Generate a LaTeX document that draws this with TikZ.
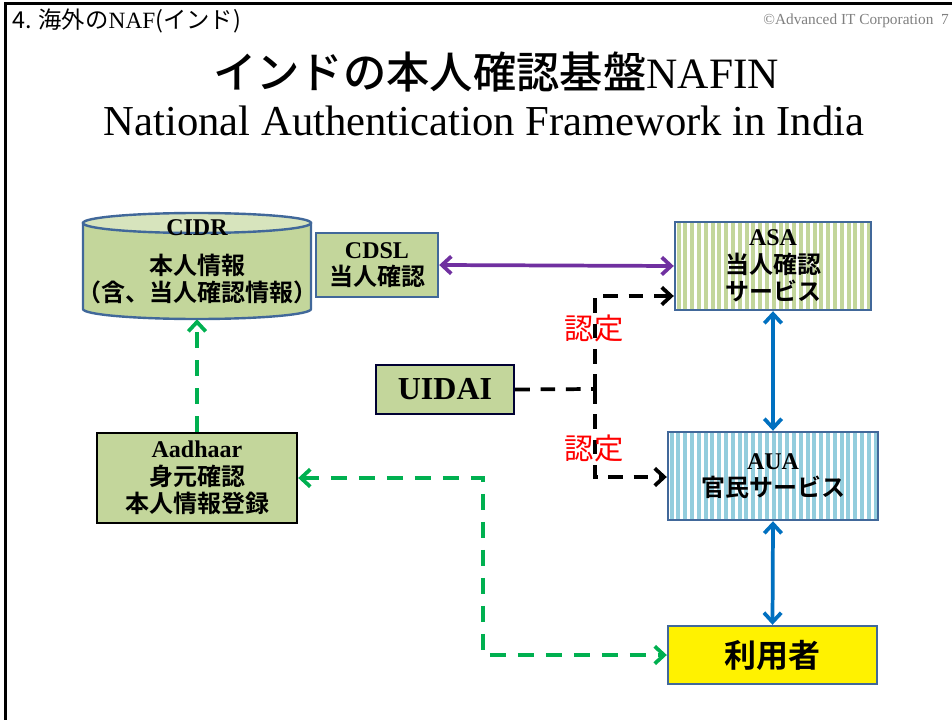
\documentclass[tikz,border=0pt]{standalone}
\usepackage{fontspec}
\usetikzlibrary{arrows.meta}
\setmainfont{Liberation Serif}
\newfontfamily\jp{Noto Sans CJK JP}[BoldFont={Noto Sans CJK JP Bold}]
\newfontfamily\jpm{Noto Sans CJK JP Medium}
\definecolor{olv}{HTML}{C3D69B}
\definecolor{olvl}{HTML}{D7E4BD}
\definecolor{bdr}{HTML}{41689A}
\definecolor{stg}{HTML}{C3D69B}
\definecolor{stb}{HTML}{93CDDD}
\definecolor{pur}{HTML}{7030A0}
\definecolor{blu}{HTML}{0070C0}
\definecolor{grn}{HTML}{00B050}
\def\boxfont{\fontsize{18}{20.6}\selectfont\bfseries\jp}
\begin{document}
\begin{tikzpicture}[x=0.75pt,y=-0.75pt,
  box/.style={draw=bdr, line width=1.8pt, fill=olv, inner sep=0pt, align=center, font=\boxfont},
  stripes/.style={path picture={\foreach \k in {0,...,33} \fill[#1] ([xshift=\k*5.1pt+1.2pt]path picture bounding box.south west) rectangle ++(3pt,80pt);}},
  conn/.style={line width=2.8pt},
  barb/.tip={Straight Barb[length=7pt,width=13pt]},
  bdash/.style={dash pattern=on 11pt off 8pt},
  gdash/.style={dash pattern=on 12pt off 9pt}
]
\useasboundingbox (0,0) rectangle (952,720);
\fill[white] (0,0) rectangle (952,720);
\draw[line width=2.25pt] (5,720) -- (5,4) -- (952,4);

% header
\node[anchor=west, inner sep=0pt, font=\jp\fontsize{17.5}{20}\selectfont] (hdr) at (12,21) {4. 海外の{\rmfamily NAF}(インド)};
\node[anchor=east, inner sep=0pt, text=black!50, font=\fontsize{11.5}{14}\selectfont] (copy) at (949,21) {©Advanced IT Corporation\enspace 7};

% titles
\node[inner sep=0pt, font=\fontsize{32.5}{36}\selectfont] (t1) at (496,72) {{\jpm インドの本人確認基盤}NAFIN};
\node[inner sep=0pt, font=\fontsize{32}{36}\selectfont] (t2) at (484,121) {National Authentication Framework in India};

% CIDR cylinder
\filldraw[draw=bdr, fill=olv, line width=1.8pt] (83,223) -- (83,309) arc[start angle=180, end angle=0, x radius=114, y radius=10] -- (311,223) -- cycle;
\filldraw[draw=bdr, fill=olvl, line width=1.8pt] (197,223) ellipse[x radius=114, y radius=10];
\node[minimum width=171pt, minimum height=79.5pt, inner sep=0pt] (cidr) at (197,266) {};
\node[inner sep=0pt, align=center, font=\boxfont] (cidrtxt) at (197,262) {{\rmfamily CIDR}\\[8.5pt]本人情報\\（含、当人確認情報）};

% boxes
\node[box, minimum width=91.5pt, minimum height=48pt] (cdsl) at (377,265) {{\rmfamily CDSL}\\当人確認};
\node[box, fill=white, stripes=stg, minimum width=147pt, minimum height=66pt] (asa) at (773,266) {{\rmfamily ASA}\\当人確認\\サービス};
\node[box, fill=white, stripes=stb, minimum width=157.5pt, minimum height=66pt] (aua) at (773,476) {{\rmfamily AUA}\\官民サービス};
\node[box, fill=yellow, minimum width=156.75pt, minimum height=43.5pt, font=\fontsize{24}{26}\selectfont\bfseries\jp] (riyo) at (772.5,655) {利用者};
\node[box, draw=black!80!blue, minimum width=103.5pt, minimum height=36.75pt, font=\fontsize{24}{28}\selectfont\bfseries] (uidai) at (445,389.5) {UIDAI};
\node[box, draw=black, minimum width=150pt, minimum height=67.5pt] (aadhaar) at (197,478) {{\rmfamily Aadhaar}\\身元確認\\本人情報登録};

% connectors
\draw[conn, pur, barb-barb] (cdsl.east) -- (asa.west);
\draw[conn, blu, barb-barb] (asa.south) -- (aua.north);
\draw[conn, blu, barb-barb] (aua.south) -- (riyo.north);
\draw[conn, grn, gdash, -barb] (aadhaar.north) -- (cidr.south);
\coordinate (gturn) at (483,560);
\draw[conn, grn, gdash, barb-barb] (aadhaar.east) -| (gturn) |- (riyo.west);

\coordinate (jn) at (595,389);
\coordinate (ya) at (0,296);
\coordinate (yb) at (0,477);
\draw[conn, bdash] (uidai.east) -- (jn);
\draw[conn, bdash, -barb] (jn) |- (asa.west |- ya);
\draw[conn, bdash, -barb] (jn) |- (aua.west |- yb);

\node[inner sep=0pt, text=red, font=\jp\fontsize{22}{26}\selectfont] (nin1) at (594,328) {認定};
\node[inner sep=0pt, text=red, font=\jp\fontsize{22}{26}\selectfont] (nin2) at (594,448) {認定};
\end{tikzpicture}
\end{document}
